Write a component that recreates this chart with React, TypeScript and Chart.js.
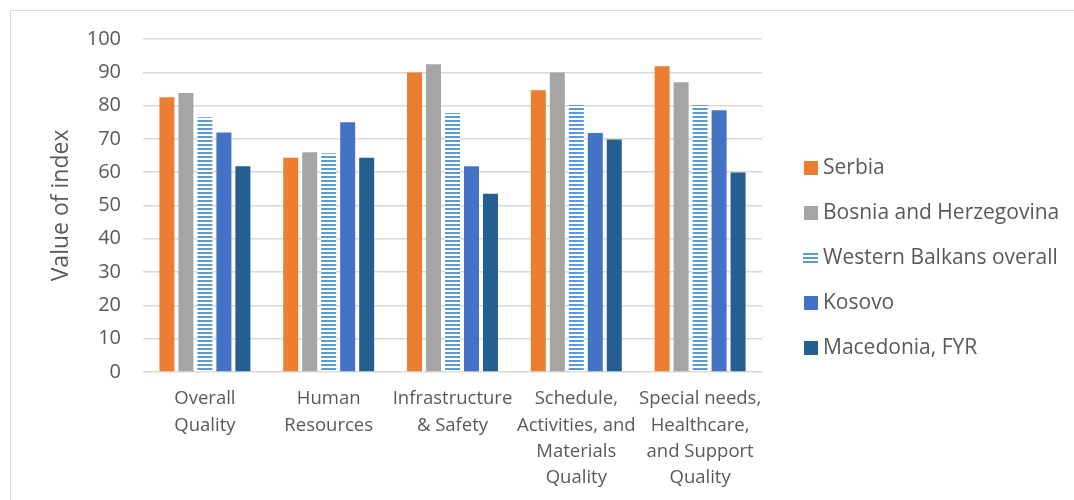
import React, { useEffect, useRef } from "react";
import { Chart, registerables } from "chart.js";

Chart.register(...registerables);

const categories: string[][] = [
  ["Overall", "Quality"],
  ["Human", "Resources"],
  ["Infrastructure", "& Safety"],
  ["Schedule,", "Activities, and", "Materials", "Quality"],
  ["Special needs,", "Healthcare,", "and Support", "Quality"],
];
const seriesNames = [
  "Serbia",
  "Bosnia and Herzegovina",
  "Western Balkans overall",
  "Kosovo",
  "Macedonia, FYR",
];
const serbia = [82.5, 64.3, 89.9, 84.6, 91.8];
const bosnia = [83.8, 66.0, 92.4, 89.9, 87.0];
const westernBalkans = [76.5, 65.7, 77.8, 80.2, 80.2];
const kosovo = [71.9, 75.0, 61.8, 71.8, 78.6];
const macedonia = [61.8, 64.3, 53.5, 69.8, 59.9];
const yTicks = [0, 10, 20, 30, 40, 50, 60, 70, 80, 90, 100];
const yTitle = "Value of index";

const FONT = "'Open Sans', sans-serif";
const TEXT = "#595959";
const STRIPE_BLUE = "#5B9BD5";

function stripePattern(): CanvasPattern | string {
  const c = document.createElement("canvas");
  c.width = 4;
  c.height = 4;
  const g = c.getContext("2d");
  if (!g) return STRIPE_BLUE;
  g.fillStyle = "#ffffff";
  g.fillRect(0, 0, 4, 4);
  g.fillStyle = STRIPE_BLUE;
  g.fillRect(0, 0, 4, 2);
  const p = g.createPattern(c, "repeat");
  return p || STRIPE_BLUE;
}

const sideLegend = {
  id: "sideLegend",
  afterDraw(chart: any) {
    const ctx: CanvasRenderingContext2D = chart.ctx;
    const boxX = 804;
    const textX = 823;
    const y0 = 168;
    const step = 45;
    ctx.save();
    chart.data.datasets.forEach((ds: any, i: number) => {
      const cy = y0 + i * step;
      if (typeof ds.backgroundColor === "string") {
        ctx.fillStyle = ds.backgroundColor;
        ctx.fillRect(boxX, cy - 7, 14, 14);
      } else {
        ctx.fillStyle = STRIPE_BLUE;
        for (let k = 0; k < 3; k++) ctx.fillRect(boxX - 1, cy - 5 + k * 4, 15, 2);
      }
      ctx.fillStyle = TEXT;
      ctx.font = `21px ${FONT}`;
      ctx.textBaseline = "middle";
      ctx.textAlign = "left";
      ctx.fillText(ds.label, textX, cy);
    });
    ctx.restore();
  },
};

export default function App() {
  const ref = useRef<HTMLCanvasElement | null>(null);

  useEffect(() => {
    if (!ref.current) return;
    const stripes = stripePattern();
    const values = [serbia, bosnia, westernBalkans, kosovo, macedonia];
    const colors: (string | CanvasPattern)[] = ["#ED7D31", "#A5A5A5", stripes, "#4472C4", "#255E91"];
    const chart = new Chart(ref.current, {
      type: "bar",
      data: {
        labels: categories,
        datasets: values.map((v, i) => ({
          label: seriesNames[i],
          data: v,
          backgroundColor: colors[i] as any,
          borderWidth: 0,
          categoryPercentage: 0.767,
          barPercentage: 0.79,
        })),
      },
      plugins: [sideLegend],
      options: {
        responsive: false,
        animation: false,
        devicePixelRatio: 1,
        layout: { padding: { left: 48, top: 39, right: 312, bottom: 3 } },
        plugins: {
          tooltip: { enabled: false },
          legend: { display: false },
        },
        scales: {
          x: {
            grid: { display: false },
            border: { display: false },
            ticks: {
              color: TEXT,
              font: { family: FONT, size: 18.5, lineHeight: 1.42 },
              maxRotation: 0,
              autoSkip: false,
              padding: 6,
            },
          },
          y: {
            min: 0,
            max: 100,
            afterBuildTicks: (s: any) => {
              s.ticks = yTicks.map((v) => ({ value: v }));
            },
            afterFit: (s: any) => {
              s.width = 95;
            },
            grid: { color: "#D9D9D9", lineWidth: 1.5, drawTicks: false },
            border: { display: false },
            ticks: {
              color: TEXT,
              font: { family: FONT, size: 20 },
              padding: 22,
            },
            title: {
              display: true,
              text: yTitle,
              color: TEXT,
              font: { family: FONT, size: 23 },
              padding: { top: 0, bottom: 0 },
            },
          },
        },
      },
    });
    return () => chart.destroy();
  }, []);

  return (
    <div style={{ position: "fixed", inset: 0, overflow: "hidden", background: "#fff" }}>
      <div
        style={{
          position: "absolute",
          left: 10,
          top: 10,
          width: 1100,
          height: 520,
          border: "1px solid #D9D9D9",
        }}
      />
      <canvas
        ref={ref}
        width={1074}
        height={500}
        style={{ position: "absolute", left: 0, top: 0, width: 1074, height: 500 }}
      />
    </div>
  );
}
